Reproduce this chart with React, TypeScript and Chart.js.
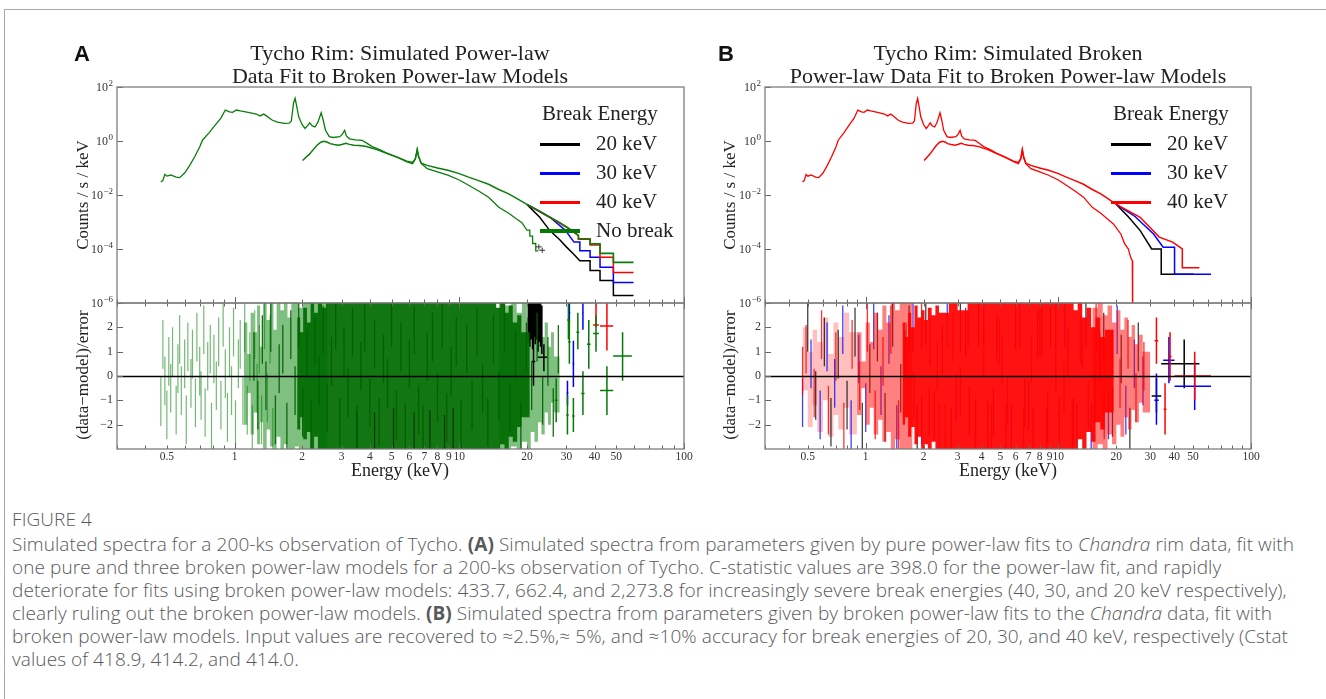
import React, { useEffect, useRef } from 'react';
import { Chart, registerables } from 'chart.js';
Chart.register(...registerables);

const SERIF = "'Liberation Serif', 'Times New Roman', serif";
const SANS = "'Liberation Sans', Arial, sans-serif";
const CAPTION_FONT = "'Open Sans', 'Noto Sans', sans-serif";

// ---------------- axis ticks ----------------
const X_TICK_VALUES = [0.3, 0.4, 0.5, 0.6, 0.7, 0.8, 0.9, 1, 2, 3, 4, 5, 6, 7, 8, 9, 10, 20, 30, 40, 50, 60, 70, 80, 90, 100];
const X_TICK_LABELS = ['', '', '0.5', '', '', '', '', '1', '2', '3', '4', '5', '6', '7', '8', '9', '10', '20', '30', '40', '50', '', '', '', '', '100'];
const X_MAJOR_TICKS = [1, 10, 100];
const Y_TOP_TICKS = [1e-6, 1e-4, 1e-2, 1, 100];
const Y_TOP_EXPONENTS = ['\u22126', '\u22124', '\u22122', '0', '2'];
const Y_RES_TICKS = [-2, -1, 0, 1, 2];
const Y_RES_LABELS = ['\u22122', '\u22121', '0', '1', '2'];

// ---------------- spectra (counts / s / keV) ----------------
const SPEC_LO_E = [0.47, 0.48, 0.49, 0.50, 0.52, 0.55, 0.57, 0.60, 0.63, 0.665, 0.70, 0.72, 0.77, 0.82, 0.87, 0.91, 0.95, 0.98, 1.02, 1.06, 1.12, 1.18, 1.25, 1.30, 1.35, 1.40, 1.47, 1.55, 1.67, 1.75, 1.79, 1.83, 1.86, 1.89, 1.93, 2.0, 2.06, 2.12, 2.16, 2.22, 2.28, 2.35, 2.43, 2.48, 2.54, 2.64, 2.75, 2.94, 3.02, 3.09, 3.15, 3.25, 3.45, 3.70, 3.86, 4.1, 4.5, 4.75, 5.3, 5.85, 6.2, 6.38, 6.5, 6.6, 6.78, 7.2, 8.0, 8.9, 10.0, 11.0, 12.2, 13.5, 15.0, 16.6, 18.0];
const SPEC_LO_C = [0.030, 0.035, 0.058, 0.050, 0.055, 0.046, 0.044, 0.065, 0.12, 0.26, 0.6, 1.07, 2.0, 3.9, 7.0, 14.0, 12.0, 11.5, 14.0, 13.0, 12.0, 11.0, 10.0, 8.5, 9.9, 8.0, 6.0, 5.0, 4.5, 4.6, 5.5, 25, 38, 20, 7.9, 4.0, 2.9, 3.8, 4.7, 3.6, 3.3, 5.0, 11.1, 6.0, 2.5, 1.45, 1.35, 1.45, 1.8, 2.5, 1.5, 1.2, 1.1, 1.05, 0.85, 0.62, 0.45, 0.36, 0.25, 0.17, 0.145, 0.22, 0.48, 0.25, 0.145, 0.095, 0.072, 0.054, 0.036, 0.023, 0.014, 0.0083, 0.0035, 0.0021, 0.0013];
const SPEC_HI_E = [2.01, 2.08, 2.15, 2.25, 2.33, 2.42, 2.5, 2.58, 2.66, 2.78, 2.9, 3.0, 3.13, 3.25, 3.4, 3.6, 3.86, 4.3, 4.75, 5.3, 5.85, 6.2, 6.38, 6.5, 6.6, 6.78, 7.2, 8.0, 8.9, 10.0, 11.0, 12.2, 13.5, 15.0, 16.6, 18.0, 20.0];
const SPEC_HI_C = [0.19, 0.25, 0.32, 0.50, 0.70, 0.90, 0.98, 0.92, 0.80, 0.74, 0.70, 0.74, 0.82, 0.75, 0.70, 0.68, 0.62, 0.48, 0.35, 0.25, 0.18, 0.16, 0.22, 0.48, 0.26, 0.15, 0.125, 0.10, 0.082, 0.062, 0.046, 0.034, 0.025, 0.016, 0.011, 0.0075, 0.0045];

// Panel A tails
const A_LO_TAIL_E = [18.0, 19.0, 20.0, 20.6, 20.6, 21.2, 21.2, 21.9, 21.9, 22.5];
const A_LO_TAIL_C = [0.0013, 0.00095, 0.0005, 0.0005, 0.0003, 0.0003, 0.00016, 0.00016, 0.000085, 0.000085];
const A_BLACK_TAIL_E = [20, 22.8, 25.3, 28, 30.1, 32, 34.4, 38.2, 38.2, 42.3, 42.3, 48.5, 48.5, 59.6];
const A_BLACK_TAIL_C = [0.0045, 0.0015, 0.00048, 0.00022, 0.000115, 0.00007, 0.000037, 0.000037, 0.000016, 0.000016, 0.0000068, 0.0000068, 0.0000019, 0.0000019];
const A_BLUE_TAIL_E = [20, 25.3, 29.6, 32.4, 34.4, 34.4, 38.2, 38.2, 42.3, 42.3, 48.5, 48.5, 59.6];
const A_BLUE_TAIL_C = [0.0045, 0.0015, 0.0005, 0.00018, 0.00018, 0.000087, 0.000087, 0.000049, 0.000049, 0.000021, 0.000021, 0.0000057, 0.0000057];
const A_RED_TAIL_E = [20, 25.3, 30.1, 33.9, 33.9, 38.2, 38.2, 42.3, 42.3, 48.5, 48.5, 59.6];
const A_RED_TAIL_C = [0.0045, 0.0015, 0.00064, 0.00031, 0.00023, 0.00023, 0.00014, 0.00014, 0.000049, 0.000049, 0.0000135, 0.0000135];
const A_GREEN_TAIL_E = [20, 23, 25.3, 28, 30.1, 32, 33.9, 33.9, 38.2, 38.2, 42.3, 42.3, 48.5, 48.5, 59.6];
const A_GREEN_TAIL_C = [0.0045, 0.0024, 0.0015, 0.00095, 0.00064, 0.00046, 0.00032, 0.00024, 0.00024, 0.000155, 0.000155, 0.000069, 0.000069, 0.000032, 0.000032];
const A_CROSS_E = [22.6, 23.4];
const A_CROSS_C = [0.00012, 0.00009];

// Panel B tails
const B_LO_TAIL_E = [18.0, 19.3, 21.1, 22.1, 23.1, 23.7, 24.2, 24.3, 24.3];
const B_LO_TAIL_C = [0.0013, 0.00085, 0.00036, 0.000155, 0.0001, 0.00005, 0.000037, 0.000037, 0.0000001];
const B_BLACK_TAIL_E = [20, 23.2, 26.6, 30.5, 34.2, 34.2, 50.5];
const B_BLACK_TAIL_C = [0.0045, 0.0015, 0.00048, 0.0001, 0.0001, 0.0000117, 0.0000117];
const B_BLUE_TAIL_E = [20, 25, 31.2, 35, 40.1, 40.1, 62];
const B_BLUE_TAIL_C = [0.0045, 0.0016, 0.00036, 0.000117, 0.000117, 0.0000117, 0.0000117];
const B_RED_TAIL_E = [20, 26.6, 33.4, 39.2, 44, 44, 54];
const B_RED_TAIL_C = [0.0045, 0.0015, 0.000275, 0.00018, 0.0001, 0.00002, 0.00002];

// ---------------- residuals (data-model)/error ----------------
// Panel A: individual channels
const A_RES_LOW_E = [0.47, 0.48, 0.49, 0.50, 0.51, 0.52, 0.53, 0.55, 0.56, 0.57, 0.58, 0.60, 0.61, 0.62, 0.64, 0.65, 0.67, 0.68, 0.70, 0.71, 0.73, 0.74, 0.76, 0.78, 0.79, 0.81, 0.83, 0.85, 0.87, 0.89, 0.91, 0.93, 0.95, 0.97, 0.99, 1.01, 1.04, 1.06, 1.09, 1.11, 1.14, 1.17, 1.20, 1.23, 1.26, 1.29, 1.32, 1.36, 1.40, 1.44, 1.48];
const A_RES_LOW_R = [-1.05, 1.3, -0.2, -1.6, 0.6, -0.5, 1.0, -1.4, 0.3, 1.5, -0.6, 0.5, -1.8, 1.2, -0.3, 0.9, -1.1, 1.6, 0.2, -0.8, 1.9, -1.5, 0.4, 1.1, -2.1, 0.7, -0.4, 1.4, -1.2, 2.2, 0.1, -1.7, 1.0, -0.6, 1.8, -2.0, 0.5, 1.3, -1.0, 2.0, -1.4, 0.8, -2.2, 1.7, -0.5, 1.1, -1.8, 2.1, -0.9, 1.5, -2.3];
const A_RES_MID_E = [1.22, 1.27, 1.33, 1.38, 1.45, 1.52, 1.58, 1.64, 1.71, 1.78, 1.86, 1.93, 2.01, 2.1, 2.19, 2.28, 2.38, 2.48, 2.58, 2.7, 2.82, 2.94, 3.07, 3.2, 3.35, 3.5, 3.65, 3.8, 4.0, 4.2, 4.4, 4.6, 4.8, 5.0, 5.25, 5.5, 5.75, 6.0, 6.3, 6.6, 6.9, 7.2, 7.6, 8.0, 8.4, 8.8, 9.2, 9.7, 10.2, 10.8, 11.4, 12, 12.7, 13.4, 14.2, 15, 15.9, 16.8, 17.8, 18.8, 19.9, 21, 22.2, 23.5, 24.8, 26.2, 27.6];
const A_RES_MID_R = [0.8, -1.2, 1.5, -0.4, 2.0, -1.8, 0.3, 1.1, -2.1, 1.7, -0.6, 2.2, -1.5, 0.9, -2.0, 1.4, -0.2, 1.9, -1.3, 0.6, 2.1, -1.9, 1.0, -0.7, 1.8, -2.2, 0.4, 2.0, -1.1, 1.3, -1.9, 0.7, -0.3, 2.2, -1.6, 1.2, -2.1, 0.5, 1.9, -1.4, -2.2, 0.8, 1.6, -0.9, 2.1, -1.7, 0.2, 1.4, -2.0, 1.1, -1.2, 1.8, -0.5, -1.9, 1.5, -0.8, 2.0, -1.3, 0.9, -2.1, 1.2, -0.4, 1.6, -1.0, 0.6, -1.5, 1.1];
const A_RES_BLACK_LOW_E = [3.5, 4.2, 5.1, 6.3, 7.4, 8.6, 9.4];
const A_RES_BLACK_LOW_R = [-2.4, -2.5, -2.3, -2.5, -2.4, -2.6, -2.3];
const A_RES_BLACK_HI_E = [20.3, 20.6, 20.9, 21.2, 21.5, 21.8, 22.1, 22.4, 22.7, 23.0, 23.3];
const A_RES_BLACK_HI_R = [2.4, 2.2, 2.5, 2.1, 2.6, 2.3, 2.5, 2.0, 2.4, 2.2, 1.9];
// Panel A: envelopes of densely packed channels (each column runs from E to the next E)
const A_BAND1_E = [1.10, 1.14, 1.18, 1.22, 1.26, 1.30, 1.34, 1.39, 1.44, 1.49, 1.54, 1.60, 1.66, 1.72, 1.79, 1.86, 1.93, 2.00, 2.08, 2.16, 2.25, 2.35, 2.45, 2.6];
const A_BAND1_HI = [1.4, 2.2, 0.9, 2.6, 1.8, 2.9, 1.2, 3.1, 2.3, 3.1, 1.9, 3.1, 2.7, 3.1, 2.4, 3.1, 3.1, 2.8, 3.1, 3.1, 3.1, 3.1, 3.1, 3.1];
const A_BAND1_LO = [-1.2, -2.0, -0.7, -2.4, -1.5, -2.8, -1.9, -3.1, -2.2, -2.9, -3.1, -2.5, -3.1, -2.8, -3.1, -3.1, -2.9, -3.1, -3.1, -3.1, -3.1, -3.1, -3.1, -3.1];
const A_BAND2_E = [15, 16, 17, 18, 19, 20, 20.8, 21.6, 22.4, 23.2, 24.0, 24.8, 25.6, 26.4, 27.2, 28.0];
const A_BAND2_HI = [3.1, 3.1, 2.9, 3.1, 2.6, 3.1, 2.4, 2.8, 2.0, 2.5, 1.6, 2.2, 1.2, 1.8, 0.8, 0.8];
const A_BAND2_LO = [-3.1, -3.1, -3.1, -2.9, -3.1, -2.7, -3.0, -2.3, -2.7, -1.9, -2.4, -1.5, -2.0, -1.1, -1.5, -1.5];
const A_CORE_E = [1.9, 1.96, 2.02, 2.1, 2.18, 2.26, 2.35, 2.45, 2.55, 2.7, 2.85, 3.0, 3.2, 14, 14.6, 15.2, 15.9, 16.6, 17.3, 18.1, 18.9, 19.8, 20.6];
const A_CORE_HI = [1.5, 2.4, 1.8, 2.8, 2.2, 3.1, 2.6, 3.1, 2.8, 3.1, 3.1, 3.1, 3.1, 3.1, 3.1, 2.8, 3.1, 2.6, 2.9, 2.2, 2.5, 1.8, 1.8];
const A_CORE_LO = [-1.3, -2.2, -1.7, -2.6, -2.3, -3.1, -2.5, -3.1, -3.1, -3.1, -3.1, -3.1, -3.1, -3.1, -3.1, -3.1, -2.8, -3.1, -2.5, -2.7, -2.1, -1.7, -1.7];
// Panel A: high-energy binned residuals
const A_HI_GREEN_E = [27.0, 30.3, 30.6, 30.9, 32.2, 33.7, 35.5, 37.7, 40.6, 45.4, 53.3];
const A_HI_GREEN_ELO = [26.6, 29.9, 30.2, 30.5, 31.8, 33.2, 34.9, 37.0, 39.4, 42.3, 48.4];
const A_HI_GREEN_EHI = [27.4, 30.7, 31.0, 31.3, 32.6, 34.2, 36.1, 38.4, 41.8, 48.4, 58.6];
const A_HI_GREEN_R = [-1.0, -1.6, 2.3, 1.4, -1.64, 1.8, -0.72, 1.3, 1.75, -0.6, 0.82];
const A_HI_GREEN_RLO = [-1.9, -2.4, 1.5, 0.5, -2.3, 1.1, -1.6, 0.3, 1.0, -1.6, -0.2];
const A_HI_GREEN_RHI = [-0.1, -0.8, 3.1, 2.3, -0.9, 2.6, 0.2, 2.3, 2.5, 0.4, 1.8];
const A_HI_BLUE_E = [30.3, 30.9, 32.2, 35.5];
const A_HI_BLUE_ELO = [30.0, 30.6, 31.9, 35.2];
const A_HI_BLUE_EHI = [30.6, 31.2, 32.5, 35.8];
const A_HI_BLUE_R = [-0.7, 2.6, 0.5, 2.6];
const A_HI_BLUE_RLO = [-1.2, 2.2, -0.45, 1.9];
const A_HI_BLUE_RHI = [-0.2, 3.1, 1.45, 3.1];
const A_HI_RED_E = [40.6, 40.6, 45.4];
const A_HI_RED_ELO = [40.3, 39.4, 42.3];
const A_HI_RED_EHI = [40.9, 41.8, 48.4];
const A_HI_RED_R = [2.6, 2.1, 2.05];
const A_HI_RED_RLO = [2.2, 2.0, 1.05];
const A_HI_RED_RHI = [3.1, 3.1, 3.1];
const A_HI_BLACK_E = [21.4, 23.8];
const A_HI_BLACK_ELO = [21.0, 22.4];
const A_HI_BLACK_EHI = [21.8, 24.6];
const A_HI_BLACK_R = [0.6, 0.77];
const A_HI_BLACK_RLO = [-0.4, 0.2];
const A_HI_BLACK_RHI = [1.6, 1.3];

// Panel B: individual channels
const B_RES_BLUE_E = [0.47, 0.52, 0.58, 0.63, 0.69, 0.76, 0.84, 0.92, 1.0, 1.1, 1.2, 1.32, 1.45, 1.6, 1.76, 1.95, 2.15, 2.4, 2.65, 2.95, 3.3, 3.7, 4.1, 4.6, 5.1, 5.7, 6.3, 7.0, 7.8, 8.7, 9.7, 10.8, 12, 13.3, 14.8, 16.4, 18.2, 20.2, 22.4, 24.8, 27.5];
const B_RES_BLUE_R = [-1.1, 0.5, -1.6, 1.2, -0.3, 1.9, -2.0, 0.7, -1.3, 2.1, -0.6, 1.5, -2.2, 0.9, 2.0, -1.8, 1.4, -2.1, 2.2, -0.9, 1.8, -2.0, 2.3, -1.5, 0.6, -2.2, 2.1, -1.2, 1.7, -2.3, 0.4, 2.2, -1.9, 1.3, -2.1, 0.8, -1.6, 1.9, -1.4, 0.5, -0.2];
const B_RES_BLACK_E = [0.5, 0.55, 0.61, 0.66, 0.72, 0.8, 0.88, 0.96, 1.05, 1.15, 1.26, 1.38, 1.52, 1.68, 1.85, 2.05, 2.27, 2.5, 2.78, 3.1, 3.45, 3.85, 4.3, 4.8, 5.35, 6.0, 6.7, 7.4, 8.2, 9.1, 10.1, 11.2, 12.5, 13.9, 15.5, 17.2, 19.1, 21.2, 23.5, 26];
const B_RES_BLACK_R = [2.0, -0.8, 1.4, -1.9, 0.9, -1.2, 1.8, -2.1, 0.3, 1.6, -1.7, 2.2, -0.5, 1.9, -2.2, 2.3, -1.6, 1.1, -2.3, 2.0, -1.4, 2.2, -2.0, 1.5, -2.2, 2.1, -1.1, -2.3, 1.8, 2.2, -1.8, 1.0, -2.1, 2.2, -0.9, 1.6, -1.5, 0.7, -2.3, 1.2];
const B_RES_RED_E = [0.47, 0.49, 0.54, 0.59, 0.64, 0.7, 0.77, 0.85, 0.93, 1.02, 1.12, 1.23, 1.35, 1.48, 1.62, 1.78, 1.95, 2.14, 2.35, 2.58, 2.83, 3.1, 3.4, 3.73, 4.1, 4.5, 4.95, 5.45, 6, 6.6, 7.25, 8, 8.8, 9.7, 10.7, 11.8, 13, 14.3, 15.7, 17.3, 19, 20.9, 23, 25.3, 27.8];
const B_RES_RED_R = [0.2, 1.1, -0.7, 1.7, -1.4, 0.8, -2.1, 1.3, -0.4, 2.0, -1.6, 0.6, 1.9, -2.0, 1.2, -0.8, 2.1, -1.5, 0.4, -2.2, 1.6, -0.6, 2.2, -1.9, 0.9, -2.1, 1.4, -1.0, 2.1, -2.3, 0.7, 1.8, -1.7, 2.2, -0.5, -2.0, 1.5, -1.2, 2.0, -1.6, 0.9, -0.3, 1.3, -0.9, 0.4];
// Panel B: envelopes of densely packed channels
const B_BAND0_E = [0.47, 0.5, 0.53, 0.56, 0.6, 0.64, 0.68, 0.72, 0.77, 0.82, 0.87, 0.9];
const B_BAND0_HI = [1.2, 2.0, 1.0, 1.9, 1.4, 2.4, 0.9, 2.2, 1.6, 2.6, 1.8, 1.8];
const B_BAND0_LO = [-1.4, -0.6, -2.1, -1.2, -2.3, -1.0, -2.5, -1.6, -2.2, -1.3, -2.4, -2.4];
const B_BAND1_E = [0.9, 0.95, 1.0, 1.05, 1.1, 1.16, 1.22, 1.28, 1.35, 1.42, 1.5, 1.58, 1.66, 1.75];
const B_BAND1_HI = [1.0, 1.8, 0.6, 2.2, 1.4, 2.6, 1.9, 2.9, 2.2, 3.1, 2.7, 3.1, 3.1, 3.1];
const B_BAND1_LO = [-0.9, -1.6, -0.5, -2.0, -1.3, -2.4, -1.8, -2.7, -2.3, -3.1, -2.6, -3.1, -3.1, -3.1];
const B_BAND2_E = [15, 16, 17, 18, 19, 20, 21, 22, 23, 24, 25, 26.2, 27.4, 28.6, 30];
const B_BAND2_HI = [3.1, 2.8, 3.1, 2.5, 2.9, 2.2, 2.7, 1.9, 2.4, 1.6, 2.1, 1.3, 1.7, 1.0, 1.0];
const B_BAND2_LO = [-3.1, -3.1, -2.8, -3.0, -2.4, -2.8, -2.0, -2.5, -1.7, -2.2, -1.4, -1.9, -1.1, -1.5, -1.5];
const B_CORE_E = [1.55, 1.6, 1.66, 1.72, 1.79, 1.86, 1.94, 2.02, 2.1, 2.2, 2.3, 2.4, 2.7, 3.0, 3.4, 3.8, 4.2, 12, 12.6, 13.3, 14, 14.8, 15.6, 16.5, 17.4, 18.4, 19.4];
const B_CORE_HI = [1.4, 2.2, 1.6, 2.6, 2.0, 2.9, 2.4, 2.7, 2.3, 2.8, 2.5, 2.9, 2.6, 3.1, 2.7, 3.1, 3.1, 3.1, 2.7, 3.1, 2.4, 2.8, 2.0, 2.4, 1.6, 1.9, 1.9];
const B_CORE_LO = [-1.2, -2.0, -1.7, -2.5, -2.1, -2.8, -2.5, -3.1, -2.8, -3.1, -2.7, -3.1, -3.1, -3.1, -3.1, -3.1, -3.1, -3.1, -3.1, -2.6, -3.0, -2.3, -2.7, -1.9, -2.2, -1.5, -1.5];
// Panel B: high-energy binned residuals
const B_HI_BLACK_E = [32.3, 45.0];
const B_HI_BLACK_ELO = [30.5, 34.2];
const B_HI_BLACK_EHI = [34.2, 54];
const B_HI_BLACK_R = [-0.82, 0.5];
const B_HI_BLACK_RLO = [-1.5, -0.5];
const B_HI_BLACK_RHI = [-0.1, 1.5];
const B_HI_BLUE_E = [32.3, 37.5, 51];
const B_HI_BLUE_ELO = [31.5, 35, 40.1];
const B_HI_BLUE_EHI = [33.2, 40.1, 62];
const B_HI_BLUE_R = [-1.0, 0.65, -0.42];
const B_HI_BLUE_RLO = [-2.0, -0.3, -1.4];
const B_HI_BLUE_RHI = [0.1, 1.6, 0.6];
const B_HI_RED_E = [32.3, 35.8, 38.0, 51];
const B_HI_RED_ELO = [31.6, 35.2, 37.3, 40.1];
const B_HI_RED_EHI = [33.0, 36.4, 38.7, 62];
const B_HI_RED_R = [1.45, -1.37, 0.8, 0.0];
const B_HI_RED_RLO = [0.5, -2.4, -0.2, -1.0];
const B_HI_RED_RHI = [2.4, -0.3, 1.8, 1.0];

// ---------------- helpers ----------------
const GREEN = '#0a7d0a';
const BLUE = '#0000ff';
const RED = '#ff0000';
const BLACK = '#000000';

const pts = (E: number[], V: number[]) => {
  const n = Math.min(E.length, V.length);
  const out: any[] = [];
  for (let i = 0; i < n; i++) out.push({ x: E[i], y: V[i] });
  return out;
};

const vbars = (E: number[], R: number[]) => {
  const out: any[] = [];
  const n = Math.min(E.length, R.length);
  for (let i = 0; i < n; i++) {
    out.push({ x: E[i], y: R[i] - 1 }, { x: E[i], y: R[i] + 1 }, { x: E[i], y: null });
    out.push({ x: E[i] * 0.994, y: R[i] }, { x: E[i] * 1.006, y: R[i] }, { x: E[i], y: null });
  }
  return out;
};

const xbars = (E: number[], ELO: number[], EHI: number[], R: number[], RLO: number[], RHI: number[]) => {
  const out: any[] = [];
  for (let i = 0; i < E.length; i++) {
    out.push({ x: E[i], y: RLO[i] }, { x: E[i], y: RHI[i] }, { x: E[i], y: null });
    out.push({ x: ELO[i], y: R[i] }, { x: EHI[i], y: R[i] }, { x: E[i], y: null });
  }
  return out;
};

const line = (data: any[], color: string, width: number, order: number, extra: any = {}) => ({
  data, borderColor: color, backgroundColor: color, borderWidth: width, pointRadius: 0, pointHoverRadius: 0,
  fill: false, tension: 0, spanGaps: false, order, clip: 0, ...extra,
});

const band = (E: number[], LO: number[], HI: number[], color: string, order: number) => [
  line(pts(E, LO), 'rgba(0,0,0,0)', 1, order, { stepped: 'after' }),
  line(pts(E, HI), 'rgba(0,0,0,0)', 1, order, { stepped: 'after', fill: '-1', backgroundColor: color }),
];

function makeDeco(o: any) {
  return {
    id: 'deco',
    afterDatasetsDraw(chart: any) {
      const { ctx, chartArea: a } = chart;
      const xs = chart.scales.x;
      const ys = chart.scales.y;
      ctx.save();
      if (o.zero) {
        const py = Math.round(ys.getPixelForValue(0)) + 0.5;
        ctx.strokeStyle = '#000';
        ctx.lineWidth = 1.6;
        ctx.beginPath();
        ctx.moveTo(a.left, py);
        ctx.lineTo(a.right, py);
        ctx.stroke();
      }
      ctx.strokeStyle = '#666';
      ctx.lineWidth = 1;
      ctx.beginPath();
      for (const v of X_TICK_VALUES) {
        const px = Math.round(xs.getPixelForValue(v)) + 0.5;
        const len = X_MAJOR_TICKS.includes(v) ? 6 : 3.5;
        if (o.xBottom) { ctx.moveTo(px, a.bottom); ctx.lineTo(px, a.bottom - len); }
        if (o.xTop) { ctx.moveTo(px, a.top); ctx.lineTo(px, a.top + len); }
      }
      for (const v of o.yTicks) {
        const py = Math.round(ys.getPixelForValue(v)) + 0.5;
        ctx.moveTo(a.left, py);
        ctx.lineTo(a.left + 6, py);
      }
      ctx.stroke();
      ctx.strokeStyle = '#7d7d7d';
      ctx.lineWidth = 1.3;
      ctx.strokeRect(a.left, a.top, a.right - a.left, a.bottom - a.top);
      if (o.yExp) {
        ctx.fillStyle = '#333';
        ctx.textAlign = 'right';
        ctx.textBaseline = 'alphabetic';
        for (let i = 0; i < o.yTicks.length; i++) {
          const py = ys.getPixelForValue(o.yTicks[i]);
          const xr = a.left - 4;
          ctx.font = `9px ${SERIF}`;
          const ew = ctx.measureText(o.yExp[i]).width;
          ctx.fillText(o.yExp[i], xr, py - 1.5);
          ctx.font = `12px ${SERIF}`;
          ctx.fillText('10', xr - ew - 0.5, py + 4);
        }
      }
      ctx.restore();
    },
  };
}

const tickFont = { family: SERIF, size: 12 };
const noGrid = { display: false, drawTicks: false };

function topConfig(datasets: any[], yWidth: number, padRight: number) {
  return {
    type: 'line',
    data: { datasets },
    options: {
      animation: false, responsive: false, events: [],
      layout: { padding: { left: 0, right: padRight, top: 27, bottom: 17 } },
      plugins: { legend: { display: false }, tooltip: { enabled: false } },
      scales: {
        x: { type: 'logarithmic', min: 0.3, max: 100, bounds: 'data', display: false },
        y: {
          type: 'logarithmic', min: 1e-6, max: 100, bounds: 'data',
          grid: noGrid, border: { display: false },
          afterBuildTicks: (s: any) => { s.ticks = Y_TOP_TICKS.map((v) => ({ value: v })); },
          afterFit: (s: any) => { s.width = yWidth; },
          ticks: { display: false },
        },
      },
    },
    plugins: [makeDeco({ xBottom: true, xTop: false, yTicks: Y_TOP_TICKS, yExp: Y_TOP_EXPONENTS })],
  };
}

function resConfig(datasets: any[], yWidth: number, padRight: number) {
  return {
    type: 'line',
    data: { datasets },
    options: {
      animation: false, responsive: false, events: [],
      layout: { padding: { left: 0, right: padRight, top: 13, bottom: 21 } },
      plugins: { legend: { display: false }, tooltip: { enabled: false } },
      scales: {
        x: {
          type: 'logarithmic', min: 0.3, max: 100, bounds: 'data',
          grid: noGrid, border: { display: false },
          afterBuildTicks: (s: any) => { s.ticks = X_TICK_VALUES.map((v) => ({ value: v })); },
          afterFit: (s: any) => { s.height = 30; },
          ticks: { callback: (_v: any, i: number) => X_TICK_LABELS[i], font: { family: SERIF, size: 11.5 }, color: '#333', padding: 1, autoSkip: false, maxRotation: 0, minRotation: 0 },
        },
        y: {
          type: 'linear', min: -3, max: 3, bounds: 'data',
          grid: noGrid, border: { display: false },
          afterBuildTicks: (s: any) => { s.ticks = Y_RES_TICKS.map((v) => ({ value: v })); },
          afterFit: (s: any) => { s.width = yWidth; },
          ticks: { callback: (_v: any, i: number) => Y_RES_LABELS[i], font: tickFont, color: '#333', padding: 4, autoSkip: false },
        },
      },
    },
    plugins: [makeDeco({ xBottom: true, xTop: true, yTicks: Y_RES_TICKS, zero: true })],
  };
}

// ---------------- panel dataset builders ----------------
function topA() {
  return [
    line(pts(A_BLACK_TAIL_E, A_BLACK_TAIL_C), BLACK, 1.5, 60),
    line(pts(A_BLUE_TAIL_E, A_BLUE_TAIL_C), BLUE, 1.5, 50),
    line(pts(A_RED_TAIL_E, A_RED_TAIL_C), RED, 1.5, 40),
    line(pts(A_GREEN_TAIL_E, A_GREEN_TAIL_C), GREEN, 1.6, 30),
    line(pts(SPEC_LO_E, SPEC_LO_C), GREEN, 1.3, 20),
    line(pts(A_LO_TAIL_E, A_LO_TAIL_C), GREEN, 1.3, 20),
    line(pts(SPEC_HI_E, SPEC_HI_C), GREEN, 1.5, 10),
    line(xbars(A_CROSS_E, A_CROSS_E.map((e) => e * 0.97), A_CROSS_E.map((e) => e * 1.03), A_CROSS_C, A_CROSS_C.map((c) => c * 0.8), A_CROSS_C.map((c) => c * 1.25)), '#333', 1, 5),
  ];
}

function topB() {
  return [
    line(pts(B_BLACK_TAIL_E, B_BLACK_TAIL_C), BLACK, 1.5, 60),
    line(pts(B_BLUE_TAIL_E, B_BLUE_TAIL_C), BLUE, 1.5, 50),
    line(pts(B_RED_TAIL_E, B_RED_TAIL_C), RED, 1.5, 40),
    line(pts(SPEC_LO_E, SPEC_LO_C), RED, 1.3, 20),
    line(pts(B_LO_TAIL_E, B_LO_TAIL_C), RED, 1.3, 20),
    line(pts(SPEC_HI_E, SPEC_HI_C), RED, 1.5, 10),
  ];
}

function resA() {
  return [
    line(vbars(A_RES_LOW_E, A_RES_LOW_R), 'rgba(0,128,0,0.55)', 1.2, 100),
    ...band(A_BAND1_E, A_BAND1_LO, A_BAND1_HI, 'rgba(0,128,0,0.5)', 95),
    ...band(A_BAND2_E, A_BAND2_LO, A_BAND2_HI, 'rgba(0,128,0,0.5)', 94),
    line(vbars(A_RES_BLACK_HI_E, A_RES_BLACK_HI_R), BLACK, 1.6, 90),
    ...band(A_CORE_E, A_CORE_LO, A_CORE_HI, 'rgba(0,108,0,0.93)', 85),
    line(vbars(A_RES_BLACK_LOW_E, A_RES_BLACK_LOW_R), 'rgba(0,0,0,0.55)', 1.2, 80),
    line(vbars(A_RES_MID_E, A_RES_MID_R), 'rgba(0,95,0,0.9)', 1.3, 70),
    line(xbars(A_HI_BLACK_E, A_HI_BLACK_ELO, A_HI_BLACK_EHI, A_HI_BLACK_R, A_HI_BLACK_RLO, A_HI_BLACK_RHI), BLACK, 1.5, 60),
    line(xbars(A_HI_BLUE_E, A_HI_BLUE_ELO, A_HI_BLUE_EHI, A_HI_BLUE_R, A_HI_BLUE_RLO, A_HI_BLUE_RHI), BLUE, 1.5, 55),
    line(xbars(A_HI_RED_E, A_HI_RED_ELO, A_HI_RED_EHI, A_HI_RED_R, A_HI_RED_RLO, A_HI_RED_RHI), RED, 1.5, 52),
    line(xbars(A_HI_GREEN_E, A_HI_GREEN_ELO, A_HI_GREEN_EHI, A_HI_GREEN_R, A_HI_GREEN_RLO, A_HI_GREEN_RHI), '#067806', 1.5, 50),
  ];
}

function resB() {
  return [
    ...band(B_BAND0_E, B_BAND0_LO, B_BAND0_HI, 'rgba(255,0,0,0.25)', 110),
    line(vbars(B_RES_BLUE_E, B_RES_BLUE_R), 'rgba(0,0,255,0.75)', 1.3, 100),
    line(vbars(B_RES_BLACK_E, B_RES_BLACK_R), 'rgba(0,0,0,0.75)', 1.3, 98),
    ...band(B_BAND1_E, B_BAND1_LO, B_BAND1_HI, 'rgba(255,0,0,0.5)', 90),
    ...band(B_BAND2_E, B_BAND2_LO, B_BAND2_HI, 'rgba(255,0,0,0.5)', 89),
    ...band(B_CORE_E, B_CORE_LO, B_CORE_HI, 'rgba(255,0,0,0.93)', 85),
    line(vbars(B_RES_RED_E, B_RES_RED_R), 'rgba(255,0,0,0.8)', 1.3, 80),
    line(xbars(B_HI_BLACK_E, B_HI_BLACK_ELO, B_HI_BLACK_EHI, B_HI_BLACK_R, B_HI_BLACK_RLO, B_HI_BLACK_RHI), BLACK, 1.5, 60),
    line(xbars(B_HI_BLUE_E, B_HI_BLUE_ELO, B_HI_BLUE_EHI, B_HI_BLUE_R, B_HI_BLUE_RLO, B_HI_BLUE_RHI), BLUE, 1.5, 55),
    line(xbars(B_HI_RED_E, B_HI_RED_ELO, B_HI_RED_EHI, B_HI_RED_R, B_HI_RED_RLO, B_HI_RED_RHI), RED, 1.5, 50),
  ];
}

// ---------------- components ----------------
function ChartBox({ x, y, w, h, make }: any) {
  const ref = useRef<HTMLCanvasElement>(null);
  useEffect(() => {
    const chart = new Chart(ref.current as any, make());
    return () => chart.destroy();
  }, []);
  return <canvas ref={ref} width={w} height={h} style={{ position: 'absolute', left: x, top: y, width: w, height: h }} />;
}

function Txt({ x, base, size, children, align = 'left', family = SERIF, weight = 400, color = '#222', k = 0.8375 }: any) {
  const style: any = {
    position: 'absolute', left: x, top: base - k * size, fontFamily: family, fontSize: size,
    lineHeight: `${size}px`, fontWeight: weight, color, whiteSpace: 'nowrap',
  };
  if (align === 'center') style.transform = 'translateX(-50%)';
  return <div style={style}>{children}</div>;
}

function VTxt({ cx, cy, size, children }: any) {
  return (
    <div style={{
      position: 'absolute', left: cx, top: cy, transform: 'translate(-50%,-50%) rotate(-90deg)',
      fontFamily: SERIF, fontSize: size, lineHeight: `${size}px`, whiteSpace: 'nowrap', color: '#222',
    }}>{children}</div>
  );
}

function Swatch({ x, y, w, color, thick }: any) {
  return <div style={{ position: 'absolute', left: x, top: y - thick / 2, width: w, height: thick, background: color }} />;
}

const LEGEND_A = [
  { label: '20 keV', color: BLACK, thick: 3 },
  { label: '30 keV', color: BLUE, thick: 3 },
  { label: '40 keV', color: RED, thick: 3 },
  { label: 'No break', color: '#067806', thick: 4 },
];
const LEGEND_B = LEGEND_A.slice(0, 3);

function Legend({ x, items }: any) {
  return (
    <>
      <Txt x={x} base={121} size={21}>Break Energy</Txt>
      {items.map((it: any, i: number) => (
        <React.Fragment key={i}>
          <Swatch x={x - 2} y={144 + i * 29} w={40} color={it.color} thick={it.thick} />
          <Txt x={x + 54} base={151 + i * 29} size={21}>{it.label}</Txt>
        </React.Fragment>
      ))}
    </>
  );
}

const B700 = { fontWeight: 700 };

export default function App() {
  return (
    <div style={{ position: 'absolute', left: 0, top: 0, width: 1326, height: 699, background: '#fff', overflow: 'hidden' }}>
      <div style={{ position: 'absolute', left: 4, top: 9, width: 1322, height: 690, borderTop: '1px solid #a8a8a8', borderLeft: '1px solid #a8a8a8' }} />

      {/* Panel A */}
      <ChartBox x={0} y={60} w={700} h={260} make={() => topConfig(topA(), 117, 16)} />
      <ChartBox x={0} y={290} w={700} h={210} make={() => resConfig(resA(), 117, 16)} />
      <Txt x={74} base={62} size={22} family={SANS} weight={700} color="#111" k={0.8465}>A</Txt>
      <Txt x={400} base={60} size={22} align="center">Tycho Rim: Simulated Power-law</Txt>
      <Txt x={400} base={83} size={22} align="center">Data Fit to Broken Power-law Models</Txt>
      <VTxt cx={82} cy={195} size={17}>Counts / s / keV</VTxt>
      <VTxt cx={82} cy={375} size={17}>(data{'\u2212'}model)/error</VTxt>
      <Txt x={400} base={476} size={18} align="center">Energy (keV)</Txt>
      <Legend x={542} items={LEGEND_A} />

      {/* Panel B */}
      <ChartBox x={650} y={60} w={650} h={260} make={() => topConfig(topB(), 115, 49)} />
      <ChartBox x={650} y={290} w={650} h={210} make={() => resConfig(resB(), 115, 49)} />
      <Txt x={718} base={62} size={22} family={SANS} weight={700} color="#111" k={0.8465}>B</Txt>
      <Txt x={1008} base={60} size={22} align="center">Tycho Rim: Simulated Broken</Txt>
      <Txt x={1008} base={83} size={22} align="center">Power-law Data Fit to Broken Power-law Models</Txt>
      <VTxt cx={729} cy={195} size={17}>Counts / s / keV</VTxt>
      <VTxt cx={729} cy={375} size={17}>(data{'\u2212'}model)/error</VTxt>
      <Txt x={1008} base={476} size={18} align="center">Energy (keV)</Txt>
      <Legend x={1113} items={LEGEND_B} />

      {/* Caption */}
      <div style={{ position: 'absolute', left: 12, top: 508, fontFamily: CAPTION_FONT, fontSize: 19, fontWeight: 300, letterSpacing: '0.08px', color: '#58595b', lineHeight: '23px', whiteSpace: 'nowrap' }}>
        <div style={{ marginBottom: 2 }}>FIGURE 4</div>
        <div>Simulated spectra for a 200-ks observation of Tycho. <b style={B700}>(A)</b> Simulated spectra from parameters given by pure power-law fits to <i>Chandra</i> rim data, fit with</div>
        <div>one pure and three broken power-law models for a 200-ks observation of Tycho. C-statistic values are 398.0 for the power-law fit, and rapidly</div>
        <div>deteriorate for fits using broken power-law models: 433.7, 662.4, and 2,273.8 for increasingly severe break energies (40, 30, and 20 keV respectively),</div>
        <div>clearly ruling out the broken power-law models. <b style={B700}>(B)</b> Simulated spectra from parameters given by broken power-law fits to the <i>Chandra</i> data, fit with</div>
        <div>broken power-law models. Input values are recovered to ≈2.5%,≈ 5%, and ≈10% accuracy for break energies of 20, 30, and 40 keV, respectively (Cstat</div>
        <div>values of 418.9, 414.2, and 414.0.</div>
      </div>
    </div>
  );
}
